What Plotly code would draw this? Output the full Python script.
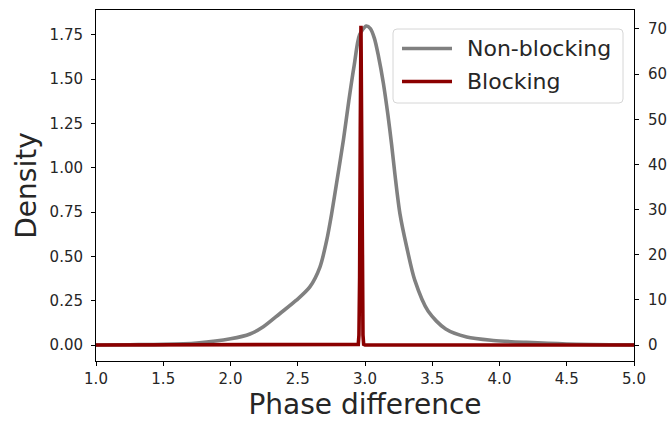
import plotly.graph_objects as go

# Kernel density of the phase difference, non-blocking trials (left axis)
nonblocking_x = [1.0, 1.25, 1.5, 1.75, 2.0, 2.145, 2.244, 2.368, 2.49, 2.59, 2.665,
                 2.715, 2.752, 2.79, 2.84, 2.88, 2.92, 2.96, 3.01, 3.04, 3.07,
                 3.10, 3.136, 3.17, 3.198, 3.223, 3.26, 3.31, 3.37, 3.47, 3.60,
                 3.756, 3.954, 4.2, 4.5, 5.0]
nonblocking_y = [0.0005, 0.002, 0.004, 0.012, 0.035, 0.062, 0.103, 0.178, 0.253, 0.328,
                 0.44, 0.59, 0.741, 0.92, 1.16, 1.38, 1.58, 1.75, 1.80, 1.785, 1.73,
                 1.63, 1.48, 1.30, 1.13, 0.96, 0.74, 0.553, 0.366, 0.19, 0.09,
                 0.045, 0.026, 0.015, 0.006, 0.001]

# Kernel density for blocking trials (right axis): a very narrow peak
blocking_x = [1.0, 2.94, 2.95, 2.955, 2.96, 2.965, 2.97, 2.975, 2.98, 2.985, 2.99, 3.0, 5.0]
blocking_y = [0.0, 0.0, 0.15, 2.2, 15.0, 47.7, 70.7, 47.7, 15.0, 2.2, 0.15, 0.0, 0.0]

series_names = ["Non-blocking", "Blocking"]
series_colors = ["#808080", "#8b0000"]

x_ticks = [1.0, 1.5, 2.0, 2.5, 3.0, 3.5, 4.0, 4.5, 5.0]
left_ticks = [0.0, 0.25, 0.5, 0.75, 1.0, 1.25, 1.5, 1.75]
right_ticks = [0, 10, 20, 30, 40, 50, 60, 70]

FONT = "DejaVu Sans"
TXT = "#262626"
W, H = 668, 421
ML, MR, MT, MB = 96, 34, 10, 60
PW, PH = W - ML - MR, H - MT - MB


def px_x(p):
    """Pixel column -> paper x."""
    return (p - ML) / PW


def px_y(p):
    """Pixel row -> paper y."""
    return (H - MB - p) / PH


fig = go.Figure()
fig.add_trace(go.Scatter(
    x=nonblocking_x, y=nonblocking_y, name=series_names[0], mode="lines",
    line=dict(color=series_colors[0], width=3.6, shape="spline", smoothing=0.8),
    yaxis="y", showlegend=False,
))
fig.add_trace(go.Scatter(
    x=blocking_x, y=blocking_y, name=series_names[1], mode="lines",
    line=dict(color=series_colors[1], width=3.6),
    yaxis="y2", showlegend=False,
))

# Legend box with rounded corners, drawn in paper coordinates
x0, x1, y0, y1, r = 393, 623, 29, 103, 4
rx, ry = r / PW, r / PH
bx0, bx1, by_top, by_bot = px_x(x0), px_x(x1), px_y(y0), px_y(y1)
box_path = (
    f"M{bx0 + rx},{by_top} L{bx1 - rx},{by_top} Q{bx1},{by_top} {bx1},{by_top - ry} "
    f"L{bx1},{by_bot + ry} Q{bx1},{by_bot} {bx1 - rx},{by_bot} "
    f"L{bx0 + rx},{by_bot} Q{bx0},{by_bot} {bx0},{by_bot + ry} "
    f"L{bx0},{by_top - ry} Q{bx0},{by_top} {bx0 + rx},{by_top} Z"
)
shapes = [dict(type="path", path=box_path, xref="paper", yref="paper",
               fillcolor="rgba(255,255,255,0.8)", line=dict(color="#d6d6d6", width=1),
               layer="above")]
annotations = []
for i, (name, color) in enumerate(zip(series_names, series_colors)):
    row = 48.5 + i * 33
    shapes.append(dict(type="line", xref="paper", yref="paper",
                       x0=px_x(402), x1=px_x(452), y0=px_y(row), y1=px_y(row),
                       line=dict(color=color, width=3.6), layer="above"))
    annotations.append(dict(text=name, xref="paper", yref="paper",
                            x=px_x(465), y=px_y(row), xanchor="left", yanchor="middle",
                            showarrow=False, font=dict(family=FONT, size=22, color=TXT)))

fig.update_layout(
    width=W, height=H,
    margin=dict(l=ML, r=MR, t=MT, b=MB, autoexpand=False),
    paper_bgcolor="white", plot_bgcolor="white",
    font=dict(family=FONT, size=15, color=TXT),
    showlegend=False,
    shapes=shapes, annotations=annotations,
    xaxis=dict(
        range=[1.0, 5.0], tickvals=x_ticks, ticktext=[f"{v:.1f}" for v in x_ticks],
        showgrid=False, zeroline=False, showline=True, linecolor="black", linewidth=1,
        mirror=True, ticks="outside", ticklen=4, tickcolor="black", automargin=False,
        title=dict(text="Phase difference", font=dict(size=28, color=TXT), standoff=4),
    ),
    yaxis=dict(
        range=[-0.09, 1.89], tickvals=left_ticks,
        ticktext=[f"{v:.2f}" for v in left_ticks],
        showgrid=False, zeroline=False, showline=True, linecolor="black", linewidth=1,
        ticks="outside", ticklen=4, tickcolor="black", ticklabelstandoff=5,
        automargin=False,
        title=dict(text="Density", font=dict(size=28, color=TXT), standoff=4),
    ),
    yaxis2=dict(
        range=[-3.535, 74.2], tickvals=right_ticks, overlaying="y", side="right",
        showgrid=False, zeroline=False, showline=True, linecolor="black", linewidth=1,
        ticks="outside", ticklen=4, tickcolor="black", ticklabelstandoff=6,
        automargin=False,
    ),
)

fig.write_html("out.html")
